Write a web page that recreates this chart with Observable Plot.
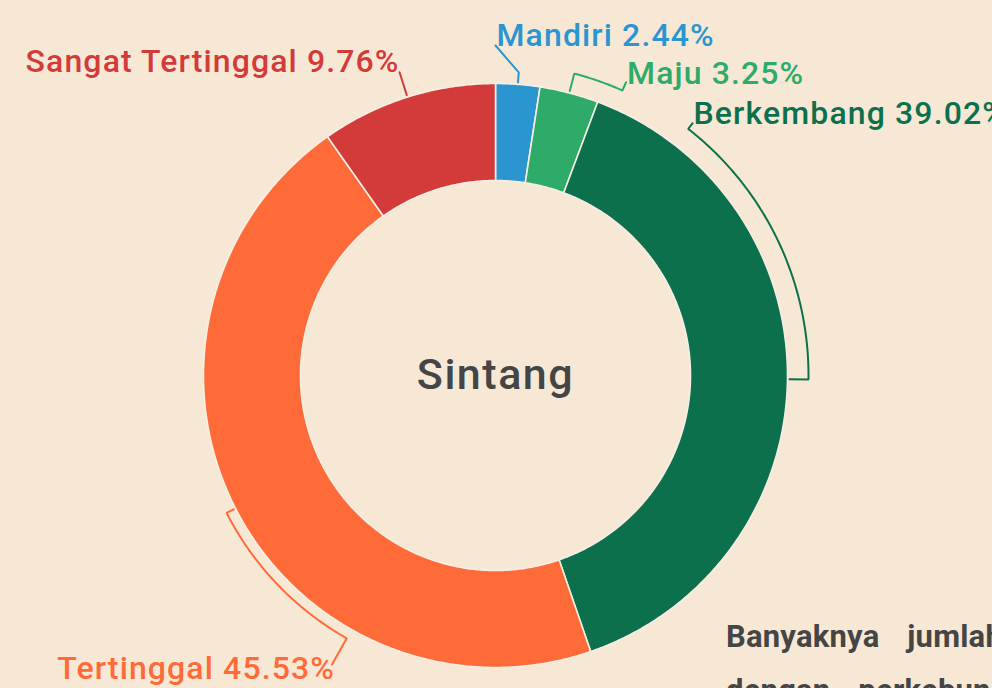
<!DOCTYPE html>
<html><head><meta charset="utf-8">
<script src="https://cdn.jsdelivr.net/npm/d3@7"></script>
<script src="https://cdn.jsdelivr.net/npm/@observablehq/plot@0.6"></script>
<style>
html,body{margin:0;padding:0;background:#f7e8d5;overflow:hidden;width:992px;height:688px;}
#chart{position:absolute;left:0;top:0;}
#chart text{letter-spacing:0.035em;}
#para{position:absolute;left:726px;top:610px;font-family:Roboto,sans-serif;font-weight:700;font-size:31px;color:#454545;line-height:54px;white-space:nowrap;word-spacing:20px;letter-spacing:0.2px}
</style></head><body><div id="chart"></div>
<div id="para">Banyaknya jumlah desa di Kabupaten Sintang<br>dengan perkebunan kelapa sawit</div>
<script>
// ---- data ----
const categories = ["Mandiri", "Maju", "Berkembang", "Tertinggal", "Sangat Tertinggal"];
const counts = [3, 4, 48, 56, 12];
const colors = ["#2b95d0", "#2eab68", "#0d704c", "#ff6b38", "#d33a3a"];
const centerTitle = "Sintang";

// ---- layout (not data) ----
const W = 992, H = 688, CX = 495, CY = 375;
const R = 292, r0 = 195;
const leader = [
  {arcR: 304, labelAngle: 0, endR: 330, straight: true, anchor: "start", ox: 1, oy: 0},
  {arcR: 312, labelAngle: 24, endR: 321, anchor: "start", ox: 1, oy: 2},
  {arcR: 313, labelAngle: 38, endR: 320, anchor: "start", ox: 1, oy: 1},
  {arcR: 302, labelAngle: 209.5, endR: 332, anchor: "end", ox: 3, oy: 15},
  {arcR: 318, labelAngle: null, endR: 318, anchor: "end", ox: 0, oy: 0}
];

const total = d3.sum(counts);
const rad = a => a * Math.PI / 180;
const px = (ang, rr) => rr * Math.sin(rad(ang));
const py = (ang, rr) => -rr * Math.cos(rad(ang));

let cum = 0;
const slices = categories.map((c, i) => {
  const a0 = cum / total * 360; cum += counts[i];
  const a1 = cum / total * 360;
  return {c, i, a0, a1, mid: (a0 + a1) / 2, pct: (counts[i] / total * 100).toFixed(2) + "%"};
});

const polyPts = [];
for (const s of slices) {
  const n = Math.max(2, Math.ceil((s.a1 - s.a0) / 0.5));
  const pts = [];
  for (let k = 0; k <= n; k++) { const a = s.a0 + (s.a1 - s.a0) * k / n; pts.push({c: s.c, x: px(a, R), y: py(a, R)}); }
  for (let k = n; k >= 0; k--) { const a = s.a0 + (s.a1 - s.a0) * k / n; pts.push({c: s.c, x: px(a, r0), y: py(a, r0)}); }
  pts.push(pts[0]);
  polyPts.push(...pts);
}

const linePts = [];
const labels = [];
slices.forEach((s, i) => {
  const L = leader[i];
  const la = L.labelAngle == null ? s.mid : L.labelAngle;
  linePts.push({c: s.c, x: px(s.mid, R + 2), y: py(s.mid, R + 2)});
  linePts.push({c: s.c, x: px(s.mid, L.arcR), y: py(s.mid, L.arcR)});
  if (!L.straight) {
    const n = Math.max(1, Math.ceil(Math.abs(la - s.mid) / 0.5));
    for (let k = 1; k <= n; k++) { const a = s.mid + (la - s.mid) * k / n; linePts.push({c: s.c, x: px(a, L.arcR), y: py(a, L.arcR)}); }
  }
  const ex = px(la, L.endR), ey = py(la, L.endR);
  linePts.push({c: s.c, x: ex, y: ey});
  labels.push({c: s.c, text: s.c + " " + s.pct, x: ex + L.ox, y: ey + L.oy, anchor: L.anchor});
});

const colorScale = {domain: categories, range: colors};
const xs = {domain: [-CX, W - CX], range: [0, W], axis: null};
const ys = {domain: [-CY, H - CY], range: [0, H], axis: null};

const plot = Plot.plot({
  width: W, height: H, margin: 0,
  x: xs, y: ys, color: colorScale,
  style: {background: "transparent", fontFamily: "Roboto, sans-serif", overflow: "visible"},
  marks: [
    Plot.line(polyPts, {x: "x", y: "y", z: "c", fill: "c", stroke: "#f6eee3", strokeWidth: 1.6, curve: "linear"}),
    Plot.line(linePts, {x: "x", y: "y", z: "c", stroke: "c", strokeWidth: 2, curve: "linear", strokeLinejoin: "miter"}),
    Plot.text(labels.filter(d => d.anchor === "start"), {x: "x", y: "y", text: "text", fill: "c", textAnchor: "start", lineAnchor: "bottom", fontSize: 32, fontWeight: 500}),
    Plot.text(labels.filter(d => d.anchor === "end"), {x: "x", y: "y", text: "text", fill: "c", textAnchor: "end", lineAnchor: "bottom", fontSize: 32, fontWeight: 500}),
    Plot.text([centerTitle], {x: () => 0, y: () => 0, text: d => d, fill: "#454545", fontSize: 43, fontWeight: 500, lineAnchor: "middle"})
  ]
});
document.getElementById("chart").appendChild(plot);
</script></body></html>
